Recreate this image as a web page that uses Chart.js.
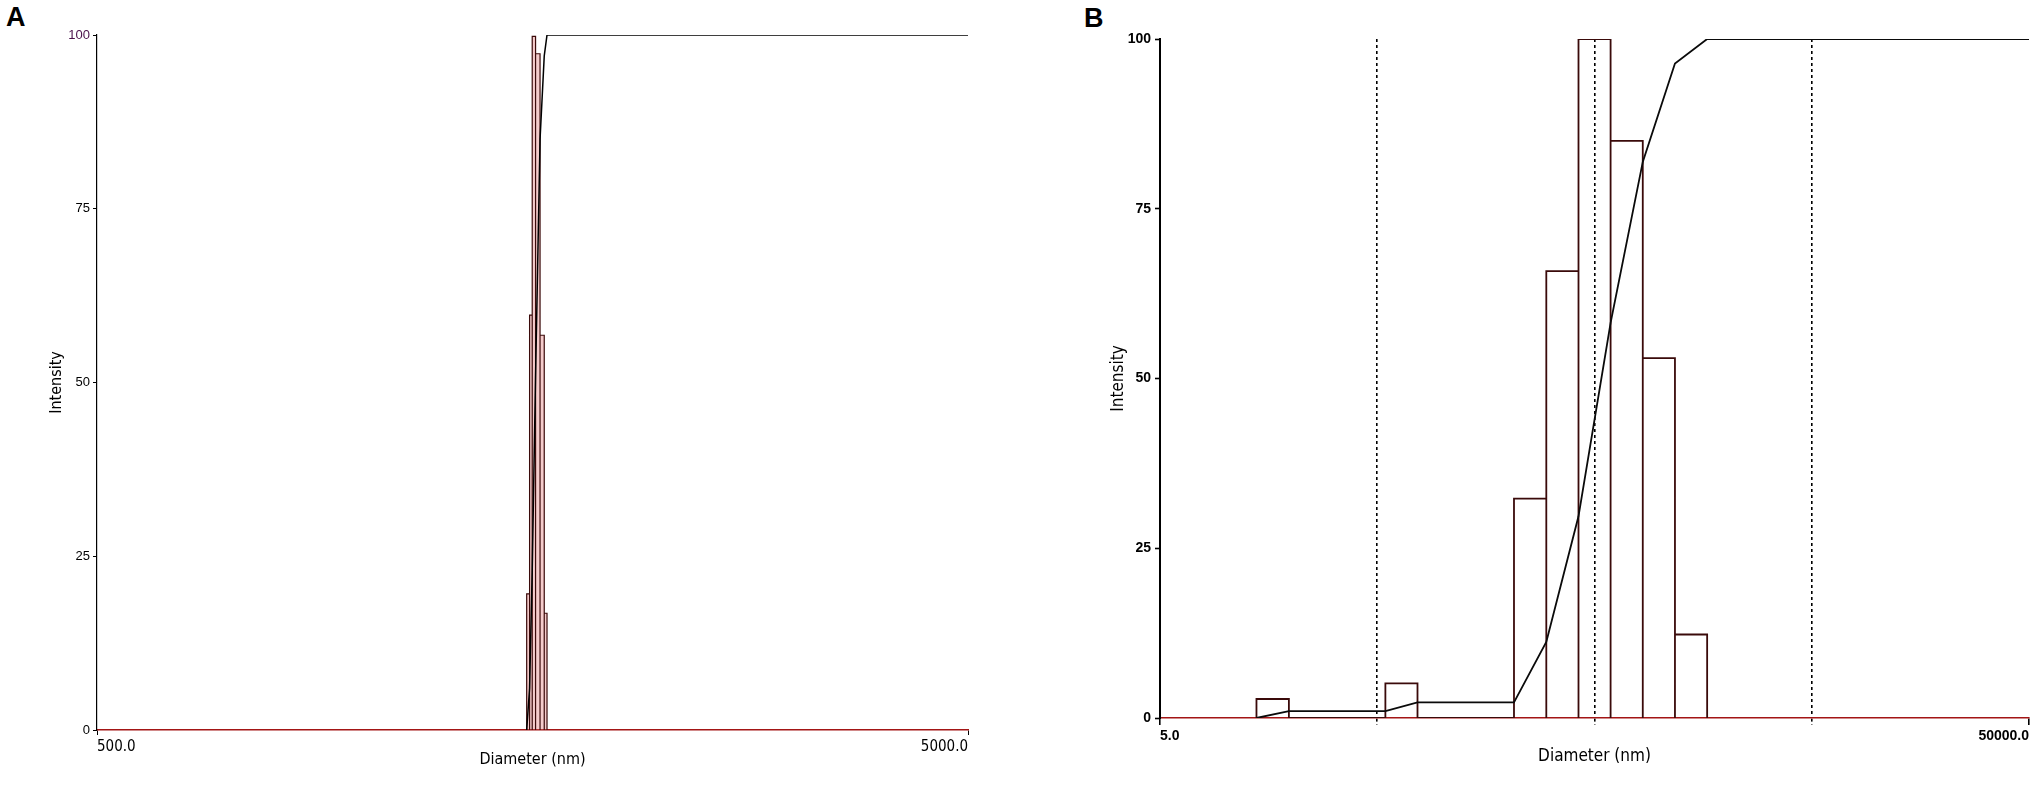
<!DOCTYPE html>
<html>
<head>
<meta charset="utf-8">
<script src="https://cdn.jsdelivr.net/npm/chart.js@4.4.1/dist/chart.umd.min.js"></script>
<style>
html, body { margin: 0; padding: 0; background: #fff; width: 2037px; height: 788px; overflow: hidden; }
canvas { position: absolute; top: 0; }
#chartA { left: 0; }
#chartB { left: 1020px; }
.panel { position: absolute; font: bold 27px "Liberation Sans", Arial, sans-serif; color: #000; line-height: 1; }
</style>
</head>
<body>
<div class="panel" style="left:6px; top:4px;">A</div>
<div class="panel" style="left:1084px; top:5px;">B</div>
<canvas id="chartA" width="1000" height="788"></canvas>
<canvas id="chartB" width="1017" height="788"></canvas>
<script>
// ---------- Panel A data ----------
const binEdgesA = [1557, 1569, 1580, 1594, 1613, 1631, 1643];          // nm
const intensityA = [19.6, 59.7, 99.8, 97.3, 56.8, 16.8];               // %
const cumDiameterA = [1557, 1569, 1580, 1594, 1613, 1631, 1643, 5000];
const cumIntensityA = [0, 6, 23, 51, 85, 97, 100, 100];
const xTicksA = [500, 5000];
const xTickLabelsA = ['500.0', '5000.0'];

// ---------- Panel B data ----------
const binLowB = [13.9, 54.5, 213, 300, 422, 593, 834, 1173];           // nm
const binHighB = [19.6, 76.6, 300, 422, 593, 834, 1173, 1650];         // nm
const intensityB = [2.8, 5.1, 32.3, 65.8, 100, 85.0, 53.0, 12.3];      // %
const cumDiameterB = [13.9, 19.6, 54.5, 76.6, 213, 300, 422, 593, 834, 1173, 1650, 50000];
const cumIntensityB = [0, 1.0, 1.0, 2.3, 2.3, 11.2, 29.7, 58.2, 81.9, 96.4, 100, 100];
const xTicksB = [5, 50, 500, 5000, 50000];
const xTickLabelsB = ['5.0', '', '', '', '50000.0'];
const dashedTicksB = [50, 500, 5000];

const yTicks = [0, 25, 50, 75, 100];
const yTickLabels = ['0', '25', '50', '75', '100'];

// ---------- helpers ----------
const NARROW = '"Liberation Sans Narrow", "DejaVu Sans Condensed", "Liberation Sans", Arial, sans-serif';
const SANS = '"Liberation Sans", Arial, sans-serif';

function histOutline(lo, hi, h) {
  const pts = [];
  h.forEach((v, i) => {
    pts.push({x: lo[i], y: 0}, {x: lo[i], y: v}, {x: hi[i], y: v}, {x: hi[i], y: 0});
  });
  return pts;
}
function pairs(xs, ys) { return xs.map((x, i) => ({x: x, y: ys[i]})); }

Chart.defaults.animation = false;
Chart.defaults.plugins.legend.display = false;
Chart.defaults.plugins.tooltip.enabled = false;

// ---------- Chart A ----------
new Chart(document.getElementById('chartA'), {
  type: 'line',
  data: {
    datasets: [
      {
        data: pairs(cumDiameterA, cumIntensityA),
        borderColor: '#000', borderWidth: 1.5, pointRadius: 0, tension: 0, fill: false, order: 1
      },
      {
        data: histOutline(binEdgesA.slice(0, -1), binEdgesA.slice(1), intensityA),
        borderColor: '#3a0a0a', borderWidth: 1.2, pointRadius: 0, tension: 0,
        fill: 'origin', backgroundColor: 'rgba(225,110,110,0.35)', borderJoinStyle: 'miter', order: 2
      }
    ]
  },
  options: {
    responsive: false,
    layout: { padding: { left: 0, right: 32, top: 35, bottom: 0 } },
    scales: {
      x: {
        type: 'logarithmic', min: 500, max: 5000, z: 1,
        afterBuildTicks: s => { s.ticks = xTicksA.map(v => ({value: v})); },
        afterFit: s => { s.height = 58; },
        ticks: {
          autoSkip: false, maxRotation: 0, minRotation: 0, align: 'inner', padding: 3,
          color: '#000', font: { family: NARROW, size: 15 },
          callback: (v, i) => xTickLabelsA[i]
        },
        grid: { drawOnChartArea: false, drawTicks: true, tickLength: 5, tickColor: '#000', tickWidth: 1 },
        border: { color: '#a31515', width: 1.5 },
        title: { display: true, text: 'Diameter (nm)', color: '#000', font: { family: NARROW, size: 16 }, padding: { top: 0, bottom: 19 } }
      },
      y: {
        min: 0, max: 100,
        afterBuildTicks: s => { s.ticks = yTicks.map(v => ({value: v})); },
        afterFit: s => { s.width = 97; },
        ticks: {
          padding: 3, font: { family: SANS, size: 13 },
          color: c => (c.tick && c.tick.value === 100) ? '#4a104a' : '#000',
          callback: (v, i) => yTickLabels[i]
        },
        grid: { drawOnChartArea: false, drawTicks: true, tickLength: 4, tickColor: '#000', tickWidth: 1 },
        border: { color: '#000', width: 1.2 },
        title: { display: true, text: 'Intensity', color: '#000', font: { family: NARROW, size: 16 }, padding: { top: 47, bottom: 0 } }
      }
    }
  }
});

// ---------- Chart B ----------
new Chart(document.getElementById('chartB'), {
  type: 'line',
  data: {
    datasets: [
      {
        data: pairs(cumDiameterB, cumIntensityB),
        borderColor: '#0a0a0a', borderWidth: 1.8, pointRadius: 0, tension: 0, fill: false, order: 1
      },
      {
        data: histOutline(binLowB, binHighB, intensityB),
        borderColor: '#3a0a0a', borderWidth: 1.8, pointRadius: 0, tension: 0, fill: false,
        borderJoinStyle: 'miter', order: 2
      }
    ]
  },
  options: {
    responsive: false,
    layout: { padding: { left: 0, right: 8, top: 39, bottom: 0 } },
    scales: {
      x: {
        type: 'logarithmic', min: 5, max: 50000, z: 1,
        afterBuildTicks: s => { s.ticks = xTicksB.map(v => ({value: v})); },
        afterFit: s => { s.height = 70; },
        ticks: {
          autoSkip: false, maxRotation: 0, minRotation: 0, align: 'inner', padding: 3,
          color: '#000', font: { family: SANS, size: 14, weight: 'bold' },
          callback: (v, i) => xTickLabelsB[i]
        },
        grid: {
          drawOnChartArea: true, drawTicks: true, tickLength: 7, lineWidth: 1.6, tickWidth: 1.6,
          color: c => (c.tick && dashedTicksB.includes(c.tick.value)) ? '#000' : 'rgba(0,0,0,0)',
          tickColor: '#000',
          tickBorderDash: c => (c.tick && dashedTicksB.includes(c.tick.value)) ? [3, 3] : []
        },
        border: { color: '#a31515', width: 1.6, dash: [3, 3] },
        title: { display: true, text: 'Diameter (nm)', color: '#000', font: { family: NARROW, size: 17 }, padding: { top: 0, bottom: 21 } }
      },
      y: {
        min: 0, max: 100,
        afterBuildTicks: s => { s.ticks = yTicks.map(v => ({value: v})); },
        afterFit: s => { s.width = 140; },
        ticks: {
          padding: 4, color: '#000', font: { family: SANS, size: 14, weight: 'bold' },
          callback: (v, i) => yTickLabels[i]
        },
        grid: { drawOnChartArea: false, drawTicks: true, tickLength: 5, tickColor: '#000', tickWidth: 1.6 },
        border: { color: '#000', width: 2 },
        title: { display: true, text: 'Intensity', color: '#000', font: { family: NARROW, size: 17 }, padding: { top: 88, bottom: 0 } }
      }
    }
  }
});
</script>
</body>
</html>
